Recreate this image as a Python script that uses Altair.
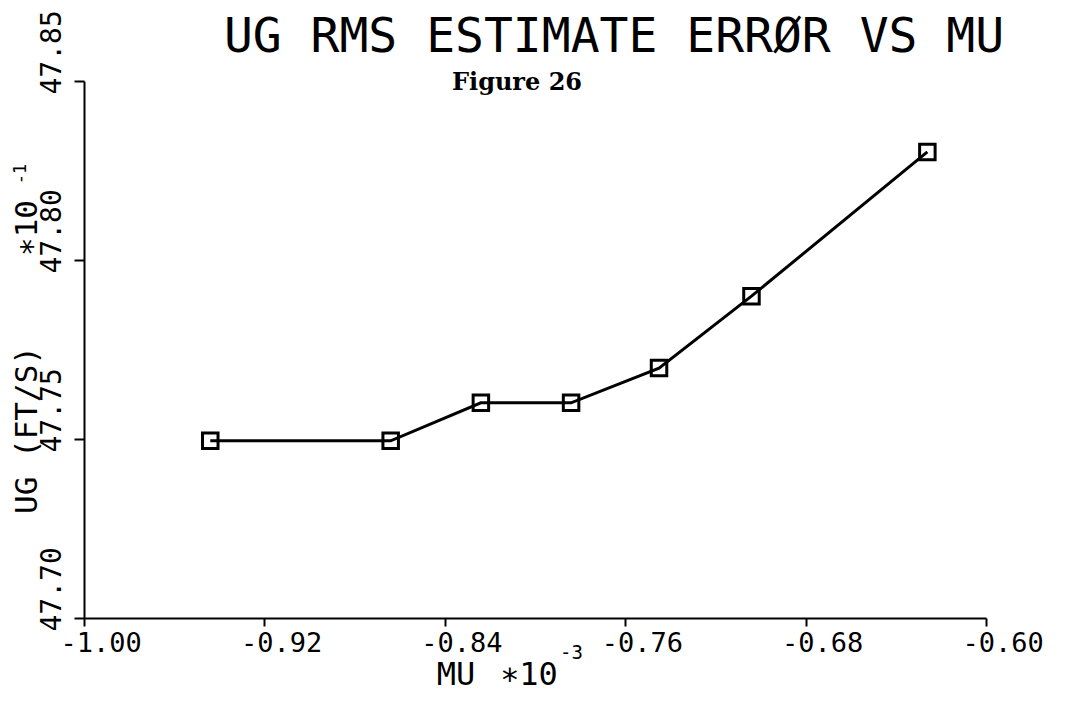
import altair as alt
import pandas as pd

# ---- data ----
mu = [-0.944, -0.864, -0.824, -0.784, -0.745, -0.704, -0.626]
ug = [47.7495, 47.7495, 47.7601, 47.7601, 47.7698, 47.7899, 47.8302]
x_ticks = [-1.00, -0.92, -0.84, -0.76, -0.68, -0.60]
y_ticks = [47.70, 47.75, 47.80, 47.85]
title_text = "UG RMS ESTIMATE ERRØR VS MU"
subtitle_text = "Figure 26"
x_title = "MU"
y_title = "UG (FT/S)"
scale_text = "∗10"
x_exp = "-3"
y_exp = "-1"

FONT = "DejaVu Sans Mono"
df = pd.DataFrame({"mu": mu, "ug": ug})

x_enc = alt.X(
    "mu:Q",
    scale=alt.Scale(domain=[-1.0, -0.6], nice=False, zero=False),
    axis=alt.Axis(
        values=x_ticks, title=None, grid=False,
        domainColor="black", domainWidth=2,
        tickColor="black", tickWidth=2, tickSize=8,
        labelFont=FONT, labelFontSize=27, labelColor="black",
        labelAlign="left", labelBaseline="top", labelOffset=-24, labelPadding=4,
        labelFlush=False, labelOverlap=False,
        labelExpr="replace(format(datum.value, '.2f'), '\u2212', '-')",
    ),
)
y_enc = alt.Y(
    "ug:Q",
    scale=alt.Scale(domain=[47.70, 47.85], nice=False, zero=False),
    axis=alt.Axis(
        values=y_ticks, title=None, grid=False,
        domainColor="black", domainWidth=2,
        tickColor="black", tickWidth=2, tickSize=10,
        labelFont=FONT, labelFontSize=28, labelColor="black",
        labelAngle=270, labelAlign="left", labelBaseline="middle",
        labelOffset=13, labelPadding=22,
        labelFlush=False, labelOverlap=False,
        labelExpr="format(datum.value, '.2f')",
    ),
)

base = alt.Chart(df)
line = base.mark_line(color="black", strokeWidth=3).encode(x=x_enc, y=y_enc)
pts = base.mark_point(shape="square", filled=False, color="black", size=240,
                      strokeWidth=3, opacity=1).encode(x="mu:Q", y="ug:Q")


def label(text, x, y, size, angle=0, align="center", baseline="alphabetic",
          font=FONT, weight="normal"):
    return alt.Chart(pd.DataFrame({"t": [text]})).mark_text(
        font=font, fontSize=size, fontWeight=weight, color="black",
        align=align, baseline=baseline, angle=angle,
    ).encode(text="t:N", x=alt.value(x), y=alt.value(y))


layers = [
    line, pts,
    label(title_text, 530, -29, 48),
    label(subtitle_text, 433, 9, 24, font="DejaVu Serif", weight="bold"),
    label(x_title, 372, 604, 32),
    label(scale_text, 416, 604, 32, align="left"),
    label(x_exp, 476, 578, 19, align="left"),
    label(y_title, -56, 349, 31, angle=270, baseline="middle"),
    label(scale_text, -56, 147, 31, angle=270, baseline="middle"),
    label(y_exp, -63, 93, 17, angle=270, baseline="middle"),
]

chart = alt.layer(*layers).properties(
    width=902, height=537,
    autosize=alt.AutoSizeParams(type="none"),
    padding={"left": 76, "top": 73, "right": 77, "bottom": 76},
    background="white",
).configure_view(stroke="transparent")

chart.save("out.html", embed_options={"renderer": "svg", "actions": False})
